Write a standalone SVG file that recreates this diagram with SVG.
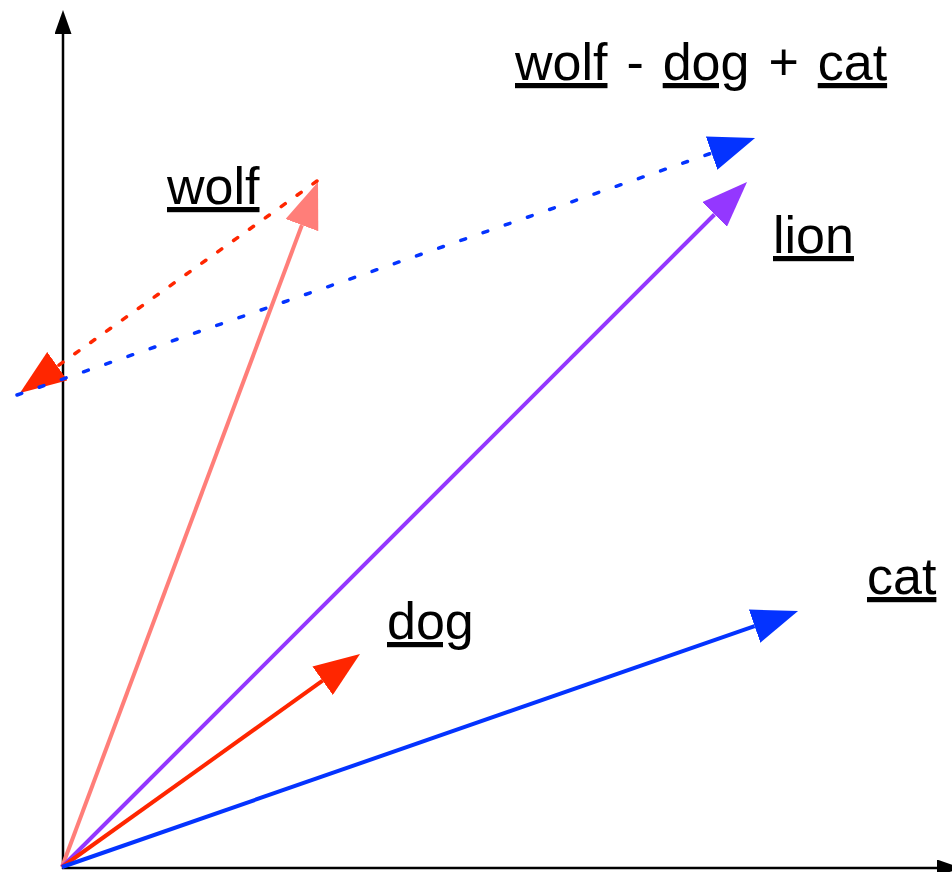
<svg xmlns="http://www.w3.org/2000/svg" width="952" height="872" viewBox="0 0 952 872">
  <style>
    .lbl { font-family: "Liberation Sans", Arial, Helvetica, sans-serif; font-size: 52px; fill: #000; }
    .u { text-decoration: underline; text-decoration-thickness: 3.5px; text-underline-offset: 7px; }
    .vec { stroke-width: 4; fill: none; stroke-linecap: butt; }
    .dash { stroke-width: 3.5; fill: none; stroke-linecap: round; }
    .axis { stroke: #000; stroke-width: 2.5; fill: none; }
  </style>
  <defs>
    <marker id="ah-black" viewBox="0 0 24 17" refX="0" refY="8.5" markerWidth="24" markerHeight="17" markerUnits="userSpaceOnUse" orient="auto">
      <path d="M0,0 L24,8.5 L0,17 Z" fill="#000"/>
    </marker>
    <marker id="ah-pink" viewBox="0 0 46 35" refX="0" refY="17.5" markerWidth="46" markerHeight="35" markerUnits="userSpaceOnUse" orient="auto">
      <path d="M0,0 L46,17.5 L0,35 Z" fill="#FF7E79"/>
    </marker>
    <marker id="ah-purple" viewBox="0 0 46 35" refX="0" refY="17.5" markerWidth="46" markerHeight="35" markerUnits="userSpaceOnUse" orient="auto">
      <path d="M0,0 L46,17.5 L0,35 Z" fill="#9437FF"/>
    </marker>
    <marker id="ah-red" viewBox="0 0 46 35" refX="0" refY="17.5" markerWidth="46" markerHeight="35" markerUnits="userSpaceOnUse" orient="auto">
      <path d="M0,0 L46,17.5 L0,35 Z" fill="#FF2600"/>
    </marker>
    <marker id="ah-blue" viewBox="0 0 46 35" refX="0" refY="17.5" markerWidth="46" markerHeight="35" markerUnits="userSpaceOnUse" orient="auto">
      <path d="M0,0 L46,17.5 L0,35 Z" fill="#0433FF"/>
    </marker>
  </defs>

  <g id="connectors">
    <g id="axes">
      <line class="axis" x1="63" y1="869" x2="63" y2="34" marker-end="url(#ah-black)"/>
      <line class="axis" x1="62" y1="868" x2="937" y2="868" marker-end="url(#ah-black)"/>
    </g>
    <line id="vec-wolf" class="vec" stroke="#FF7E79" x1="62" y1="867" x2="301.9" y2="225.1" marker-end="url(#ah-pink)"/>
    <line id="vec-lion" class="vec" stroke="#9437FF" x1="62" y1="867" x2="714.5" y2="214.5" marker-end="url(#ah-purple)"/>
    <line id="vec-dog" class="vec" stroke="#FF2600" x1="62" y1="867" x2="322.6" y2="680.7" marker-end="url(#ah-red)"/>
    <line id="vec-cat" class="vec" stroke="#0433FF" x1="62" y1="867" x2="754.6" y2="626.1" marker-end="url(#ah-blue)"/>
    <line id="minus-dog" class="dash" stroke="#FF2600" stroke-dasharray="5 14.5" x1="317" y1="181" x2="57.4" y2="366.2" marker-end="url(#ah-red)"/>
    <line id="plus-cat" class="dash" stroke="#0433FF" stroke-dasharray="5 18.5" x1="17" y1="395" x2="711.6" y2="153.1" marker-end="url(#ah-blue)"/>
  </g>

  <g id="node-wolf"><text class="lbl u" x="167" y="204">wolf</text></g>
  <g id="node-lion"><text class="lbl u" x="773" y="253">lion</text></g>
  <g id="node-dog"><text class="lbl u" x="387" y="639">dog</text></g>
  <g id="node-cat"><text class="lbl u" x="867" y="594">cat</text></g>
  <g id="node-expression">
    <text class="lbl" x="515" y="80" word-spacing="4.5"><tspan class="u">wolf</tspan> - <tspan class="u">dog</tspan> + <tspan class="u">cat</tspan></text>
  </g>
</svg>
